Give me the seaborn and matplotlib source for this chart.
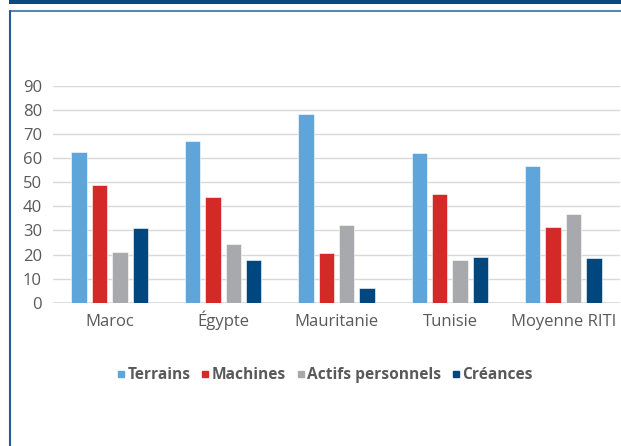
import matplotlib.pyplot as plt
import seaborn as sns
import pandas as pd
from matplotlib.lines import Line2D

# valeurs (%)
pays = ["Maroc", "Égypte", "Mauritanie", "Tunisie", "Moyenne RITI"]
series = ["Terrains", "Machines", "Actifs personnels", "Créances"]
terrains = [62.6, 67.2, 78.3, 62.0, 56.8]
machines = [48.9, 43.8, 20.5, 45.2, 31.5]
actifs = [20.9, 24.4, 32.1, 17.7, 36.7]
creances = [30.9, 17.7, 6.1, 19.1, 18.4]
couleurs = ["#5DA5DA", "#D42A27", "#A7A9AC", "#00467F"]

df = pd.DataFrame({"pays": pays, "Terrains": terrains, "Machines": machines,
                   "Actifs personnels": actifs, "Créances": creances})
df = df.melt(id_vars="pays", var_name="serie", value_name="valeur")

sns.set_style("white")
plt.rcParams['font.family'] = ['Open Sans', 'DejaVu Sans']

W, H = 621, 446
fig = plt.figure(figsize=(W / 100, H / 100), dpi=100)

# cadre autour du graphique
fig.add_artist(plt.Rectangle((9 / W, 1 - 3.5 / H), 1, 3.5 / H, color="#0B4A80",
                             transform=fig.transFigure, lw=0))
fig.add_artist(Line2D([9.5 / W, 1], [1 - 11 / H] * 2, color="#5A87AE", lw=1.5,
                      transform=fig.transFigure))
fig.add_artist(Line2D([10 / W] * 2, [0, 1 - 11 / H], color="#1F5C99", lw=1.5,
                      transform=fig.transFigure))

ax = fig.add_axes([53 / W, 1 - 302.7 / H, 567 / W, 216.7 / H])
sns.barplot(data=df, x="pays", y="valeur", hue="serie", hue_order=series,
            palette=couleurs, width=0.72, gap=0.25, saturation=1,
            ax=ax, legend=False, edgecolor="white", linewidth=0.4)

ax.set_ylim(0, 90)
ax.set_xlim(-0.5, 4.5)
ax.set_yticks(range(0, 100, 10))
ax.yaxis.grid(True, color="#D9D9D9", lw=1)
ax.set_axisbelow(True)
for s in ax.spines.values():
    s.set_visible(False)
ax.axhline(0, color="#D9D9D9", lw=1.2, zorder=0)
ax.tick_params(axis="y", length=0, pad=8, labelsize=12, labelcolor="#595959")
ax.tick_params(axis="x", length=0, pad=17, labelsize=12, labelcolor="#595959")
for lab in ax.get_xticklabels():
    lab.set_va("baseline")
ax.set_xlabel("")
ax.set_ylabel("")

handles = [Line2D([], [], marker="s", ls="", color=c, markersize=5) for c in couleurs]
leg = fig.legend(handles, series, loc="center", bbox_to_anchor=(325 / W, 1 - 375 / H),
                 ncol=4, frameon=False, handlelength=0.5, handletextpad=0.15,
                 columnspacing=0.7, prop={"weight": "bold", "size": 11.2})
for t in leg.get_texts():
    t.set_color("#595959")

fig.savefig("out.png", dpi=100)
